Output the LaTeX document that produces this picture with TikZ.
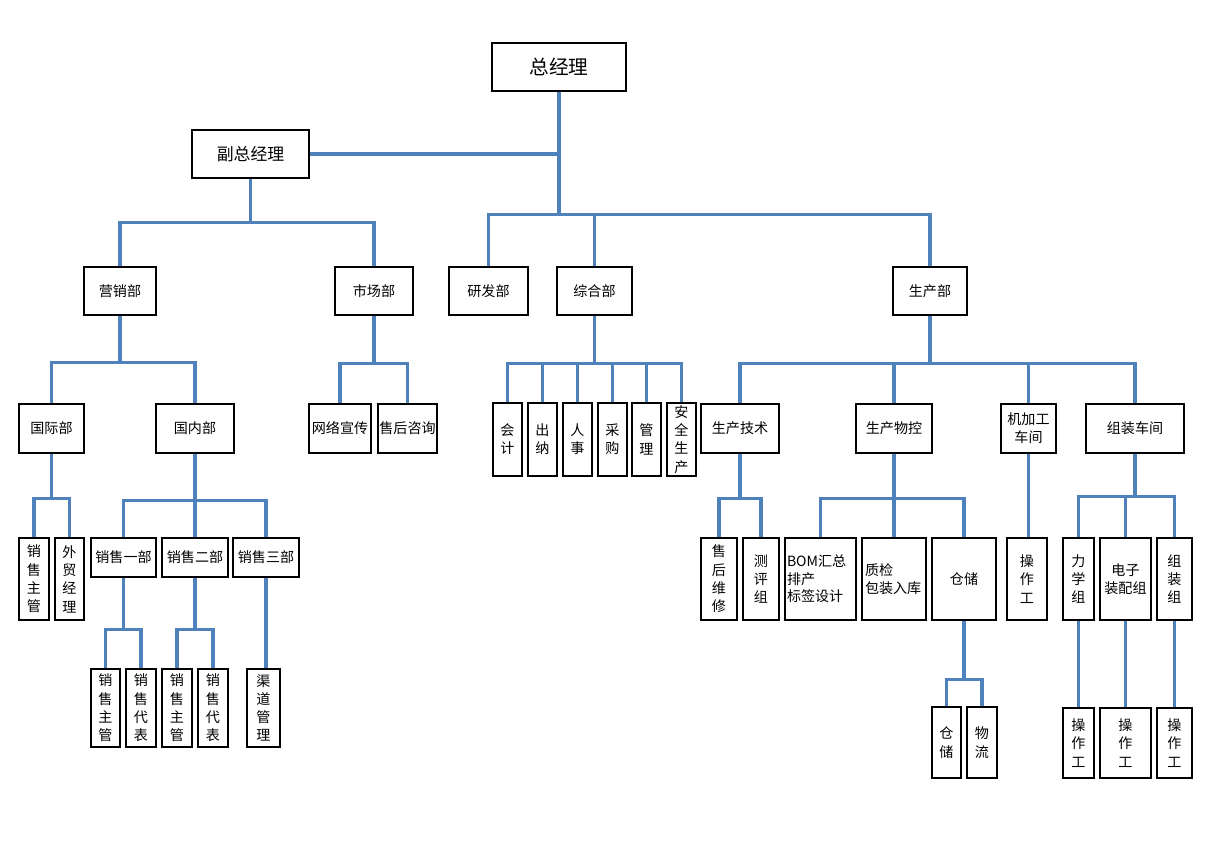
\documentclass[tikz,border=0pt]{standalone}
\usepackage{fontspec}
\setmainfont{Noto Sans CJK SC}
\usepackage{tikz}
\usetikzlibrary{positioning}
\usetikzlibrary{backgrounds}
\definecolor{LinkBlue}{RGB}{79,129,189}

\begin{document}
\begin{tikzpicture}[x=0.025cm,y=-0.025cm,
  box/.style={draw=black,line width=1.8pt,inner sep=0pt,align=center,font=\fontsize{10}{13}\selectfont},
  sz/.style 2 args={minimum width=#1*0.025cm,minimum height=#2*0.025cm},
  link/.style={draw=LinkBlue,line width=2.2pt}]
\useasboundingbox (0,0) rectangle (1211,856);

% top
\node[box,sz={134}{48},font=\fontsize{14}{16}\selectfont] (zjl) at (559,67) {总经理};
\node[box,sz={117}{48},font=\fontsize{12}{14}\selectfont] (fzjl) at (250.5,154) {副总经理};

% departments
\node[box,sz={72}{48}] (yxb) at (120,291) {营销部};
\node[box,sz={78}{48}] (scb) at (374,291) {市场部};
\node[box,sz={79}{48}] (yfb) at (488.5,291) {研发部};
\node[box,sz={75}{48}] (zhb) at (594.5,291) {综合部};
\node[box,sz={74}{48}] (scbu) at (930,291) {生产部};

% second level
\node[box,sz={65}{49}] (gjb) at (51.5,428.5) {国际部};
\node[box,sz={78}{49}] (gnb) at (195,428.5) {国内部};
\node[box,sz={62}{49}] (wlxc) at (340,428.5) {网络宣传};
\node[box,sz={59}{49}] (shzx) at (407.5,428.5) {售后咨询};
\node[box,sz={29}{73}] (kj) at (507.5,439.5) {会\\计};
\node[box,sz={29}{73}] (cn) at (542.5,439.5) {出\\纳};
\node[box,sz={29}{73}] (rs) at (577.5,439.5) {人\\事};
\node[box,sz={29}{73}] (cg) at (612.5,439.5) {采\\购};
\node[box,sz={29}{73}] (gl) at (646.5,439.5) {管\\理};
\node[box,sz={29}{73}] (aqsc) at (681.5,439.5) {安\\全\\生\\产};
\node[box,sz={78}{49}] (scjs) at (740,428.5) {生产技术};
\node[box,sz={76}{49}] (scwk) at (894,428.5) {生产物控};
\node[box,sz={55}{49}] (jjg) at (1028.5,428.5) {机加工\\车间};
\node[box,sz={98}{49}] (zzcj) at (1135,428.5) {组装车间};

% third level
\node[box,sz={30}{82}] (xszg) at (34,579) {销\\售\\主\\管};
\node[box,sz={29}{82}] (wmjl) at (69.5,579) {外\\贸\\经\\理};
\node[box,sz={65}{39}] (xsy) at (123.5,557.5) {销售一部};
\node[box,sz={66}{39}] (xse) at (195,557.5) {销售二部};
\node[box,sz={66}{39}] (xss) at (266,557.5) {销售三部};
\node[box,sz={36}{82}] (shwx) at (719,579) {售\\后\\维\\修};
\node[box,sz={36}{82}] (cpz) at (761,579) {测\\评\\组};
\node[box,sz={71}{82},align=left,text width=67*0.025cm,font=\fontsize{10}{12.5}\selectfont] (bom) at (820.5,579) {BOM汇总\\排产\\标签设计};
\node[box,sz={64}{82},align=left,text width=58*0.025cm] (zj) at (894,579) {质检\\包装入库};
\node[box,sz={64}{82}] (cc) at (964,579) {仓储};
\node[box,sz={40}{82}] (czga) at (1027,579) {操\\作\\工};
\node[box,sz={31}{82}] (lxz) at (1078.5,579) {力\\学\\组};
\node[box,sz={51}{82}] (dzzp) at (1125.5,579) {电子\\装配组};
\node[box,sz={35}{82}] (zzz) at (1174.5,579) {组\\装\\组};

% fourth level
\node[box,sz={29}{78}] (xszga) at (105.5,708) {销\\售\\主\\管};
\node[box,sz={30}{78}] (xsdba) at (141,708) {销\\售\\代\\表};
\node[box,sz={30}{78}] (xszgb) at (177,708) {销\\售\\主\\管};
\node[box,sz={30}{78}] (xsdbb) at (213,708) {销\\售\\代\\表};
\node[box,sz={33}{78}] (qdgl) at (263.5,708) {渠\\道\\管\\理};
\node[box,sz={29}{71}] (cca) at (946.5,742.5) {仓\\储};
\node[box,sz={30}{71}] (wl) at (982,742.5) {物\\流};
\node[box,sz={31}{70}] (czgb) at (1078.5,743) {操\\作\\工};
\node[box,sz={51}{70}] (czgc) at (1125.5,743) {操\\作\\工};
\node[box,sz={35}{70}] (czgd) at (1174.5,743) {操\\作\\工};

\begin{scope}[on background layer]
\fill[white] (0,0) rectangle (1211,856);
\draw[link] (fzjl.east) -- (fzjl.east -| zjl.south);
\foreach \c in {yfb,zhb,scbu} \draw[link] (zjl.south) -- ++(0,122) -| (\c.north);
\foreach \c in {yxb,scb} \draw[link] (fzjl.south) -- ++(0,43) -| (\c.north);
\foreach \c in {gjb,gnb} \draw[link] (yxb.south) -- ++(0,46) -| (\c.north);
\foreach \c in {wlxc,shzx} \draw[link] (scb.south) -- ++(0,47) -| (\c.north);
\foreach \c in {kj,cn,rs,cg,gl,aqsc} \draw[link] (zhb.south) -- ++(0,47) -| (\c.north);
\foreach \c in {scjs,scwk,jjg,zzcj} \draw[link] (scbu.south) -- ++(0,47) -| (\c.north);
\foreach \c in {xszg,wmjl} \draw[link] (gjb.south) -- ++(0,44) -| (\c.north);
\foreach \c in {xsy,xse,xss} \draw[link] (gnb.south) -- ++(0,46) -| (\c.north);
\foreach \c in {xszga,xsdba} \draw[link] (xsy.south) -- ++(0,51) -| (\c.north);
\foreach \c in {xszgb,xsdbb} \draw[link] (xse.south) -- ++(0,51) -| (\c.north);
\draw[link] (xss.south) -- (xss.south |- qdgl.north);
\foreach \c in {shwx,cpz} \draw[link] (scjs.south) -- ++(0,44) -| (\c.north);
\foreach \c in {bom,zj,cc} \draw[link] (scwk.south) -- ++(0,44) -| (\c.north);
\draw[link] (jjg.south) -- (jjg.south |- czga.north);
\foreach \c in {lxz,dzzp,zzz} \draw[link] (zzcj.south) -- ++(0,42) -| (\c.north);
\foreach \c in {cca,wl} \draw[link] (cc.south) -- ++(0,58) -| (\c.north);
\draw[link] (lxz.south) -- (lxz.south |- czgb.north);
\draw[link] (dzzp.south) -- (dzzp.south |- czgc.north);
\draw[link] (zzz.south) -- (zzz.south |- czgd.north);
\end{scope}
\end{tikzpicture}
\end{document}
